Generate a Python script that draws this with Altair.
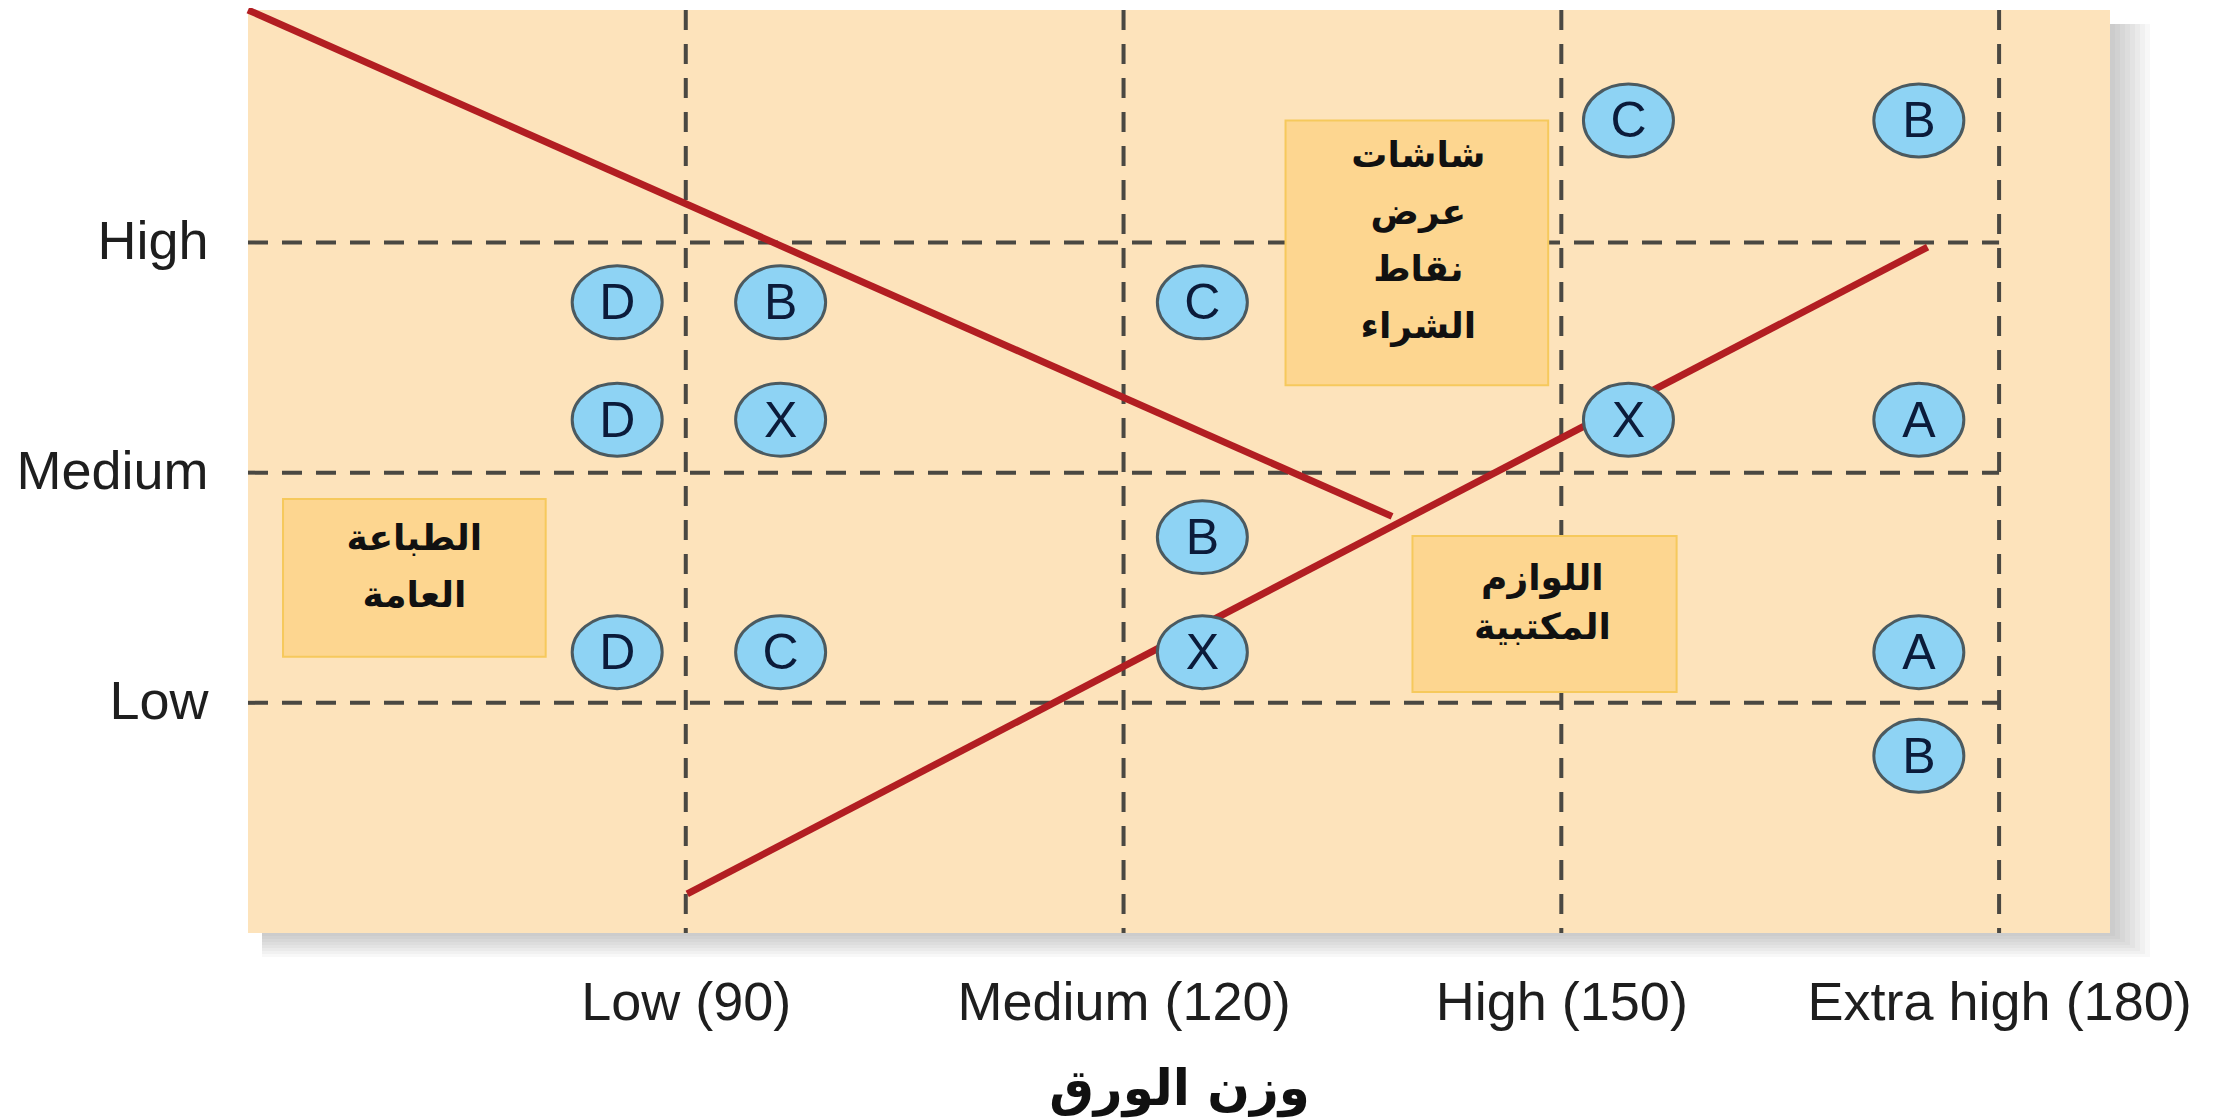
import altair as alt
import pandas as pd

# ---------------- data ----------------
x_ticks = [90, 120, 150, 180]
x_tick_labels = ["Low (90)", "Medium (120)", "High (150)", "Extra high (180)"]
y_ticks = [1, 2, 3]
y_tick_labels = ["Low", "Medium", "High"]
x_title = "وزن الورق"

point_labels = ["D", "B", "C", "C", "B", "D", "X", "X", "A", "B", "D", "C", "X", "A", "B"]
point_x = [85.3, 96.5, 125.4, 154.6, 174.5, 85.3, 96.5, 154.6, 174.5, 125.4, 85.3, 96.5, 125.4, 174.5, 174.5]
point_y = [2.74, 2.74, 2.74, 3.53, 3.53, 2.23, 2.23, 2.23, 2.23, 1.72, 1.22, 1.22, 1.22, 1.22, 0.77]

line_id = ["a", "a", "b", "b"]
line_x = [60.0, 138.4, 90.1, 175.1]
line_y = [4.01, 1.81, 0.17, 2.98]

box_text = ["الطباعة\nالعامة", "شاشات\nعرض\nنقاط\nالشراء", "اللوازم\nالمكتبية"]
box_x1 = [62.4, 131.1, 139.8]
box_x2 = [80.4, 149.1, 157.9]
box_y1 = [1.885, 3.53, 1.725]
box_y2 = [1.20, 2.38, 1.047]
text_x = [71.4, 140.2, 148.7]
text_y = [1.713, 3.375, 1.54]   # first line of each label
text_group = ["wide", "wide", "tight"]

X_DOMAIN = [60, 187.6]
Y_DOMAIN = [0, 4.01]
W, H = 1862, 923

# ---------------- tables ----------------
pts = pd.DataFrame({"x": point_x, "y": point_y, "label": point_labels})
lines = pd.DataFrame({"id": line_id, "x": line_x, "y": line_y})
boxes = pd.DataFrame({"x": box_x1, "x2": box_x2, "y": box_y1, "y2": box_y2,
                      "tx": text_x, "ty": text_y, "text": box_text, "g": text_group})
vt = pd.DataFrame({"x": x_ticks})
ht = pd.DataFrame({"y": y_ticks})
one = pd.DataFrame({"a": [0]})

xs = alt.Scale(domain=X_DOMAIN, nice=False, zero=False)
ys = alt.Scale(domain=Y_DOMAIN, nice=False, zero=False)

x_expr = "{" + ",".join(f"'{v}':'{t}'" for v, t in zip(x_ticks, x_tick_labels)) + "}[datum.value]"
y_expr = "{" + ",".join(f"'{v}':'{t}'" for v, t in zip(y_ticks, y_tick_labels)) + "}[datum.value]"

LBL = dict(labelFont="Liberation Sans", labelFontSize=54, labelColor="#1e1e1e",
           labelLimit=0, labelOverlap=False, labelBound=False, labelFlush=False)
xax = alt.Axis(values=x_ticks, labelExpr=x_expr, title=x_title,
               grid=False, domain=False, ticks=False,
               labelPadding=43, titlePadding=34,
               titleFont="DejaVu Sans", titleFontSize=50, titleFontWeight="bold",
               titleColor="#111111", **LBL)
yax = alt.Axis(values=y_ticks, labelExpr=y_expr, title=None,
               grid=False, domain=False, ticks=False, labelPadding=40, **LBL)

layers = []

# drop shadow
for k in range(1, 9):
    layers.append(
        alt.Chart(one).mark_rect(fill="#5a5a5a", opacity=0.045).encode(
            x=alt.value(14), x2=alt.value(W + 5 * k),
            y=alt.value(14), y2=alt.value(H + 3 * k))
    )

# background
layers.append(
    alt.Chart(one).mark_rect(fill="#FDE3BB").encode(
        x=alt.value(0), x2=alt.value(W), y=alt.value(0), y2=alt.value(H))
)

dash = [20, 14]
# vertical dashed lines
layers.append(
    alt.Chart(vt).mark_rule(color="#4a4842", strokeWidth=4, strokeDash=dash).encode(
        x=alt.X("x:Q", scale=xs, axis=xax),
        y=alt.value(0), y2=alt.value(H))
)
# horizontal dashed lines
layers.append(
    alt.Chart(ht).mark_rule(color="#4a4842", strokeWidth=4, strokeDash=dash).encode(
        y=alt.Y("y:Q", scale=ys, axis=yax),
        x=alt.X(datum=X_DOMAIN[0], scale=xs, axis=xax), x2=alt.X2(datum=x_ticks[-1]))
)
# red lines
layers.append(
    alt.Chart(lines).mark_line(color="#B21E22", strokeWidth=7).encode(
        x=alt.X("x:Q", scale=xs, axis=xax),
        y=alt.Y("y:Q", scale=ys, axis=yax),
        detail="id:N")
)
# label boxes
layers.append(
    alt.Chart(boxes).mark_rect(fill="#FDD690", stroke="#F6C95C", strokeWidth=2).encode(
        x=alt.X("x:Q", scale=xs, axis=xax), x2="x2:Q",
        y=alt.Y("y:Q", scale=ys, axis=yax), y2="y2:Q")
)
for grp, lh in [("wide", 57), ("tight", 49)]:
    layers.append(
        alt.Chart(boxes).transform_filter(alt.datum.g == grp).mark_text(
            lineBreak="\n", font="DejaVu Sans", fontWeight="bold",
            fontSize=36, lineHeight=lh, color="#111111",
            align="center", baseline="middle").encode(
            x=alt.X("tx:Q", scale=xs, axis=xax),
            y=alt.Y("ty:Q", scale=ys, axis=yax),
            text="text:N")
    )
# circles
ry, k = 0.81, 0.552
ell = (f"M-1,0 C-1,{-ry*k:.3f} {-k},{-ry} 0,{-ry} C{k},{-ry} 1,{-ry*k:.3f} 1,0 "
       f"C1,{ry*k:.3f} {k},{ry} 0,{ry} C{-k},{ry} -1,{ry*k:.3f} -1,0 Z")
layers.append(
    alt.Chart(pts).mark_point(shape=ell, size=8100, filled=True, fill="#8ED3F4",
                              stroke="#4B5A60", strokeWidth=3, opacity=1).encode(
        x=alt.X("x:Q", scale=xs, axis=xax),
        y=alt.Y("y:Q", scale=ys, axis=yax))
)
layers.append(
    alt.Chart(pts).mark_text(font="Liberation Sans", fontSize=50, color="#0B1B3A",
                             align="center", baseline="middle", dy=2).encode(
        x=alt.X("x:Q", scale=xs, axis=xax),
        y=alt.Y("y:Q", scale=ys, axis=yax),
        text="label:N")
)

chart = alt.layer(*layers).properties(
    width=W, height=H,
    background="white",
    autosize=alt.AutoSizeParams(type="none"),
    padding={"left": 240, "top": 2, "right": 104, "bottom": 190},
).configure_view(stroke=None)

chart.save("out.html", embed_options={"renderer": "svg", "actions": False})
